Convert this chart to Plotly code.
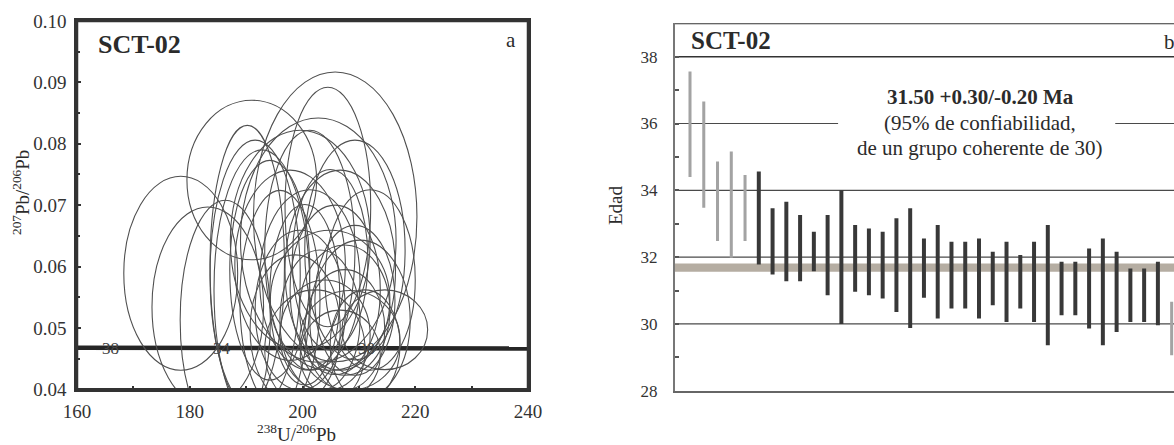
import plotly.graph_objects as go

# ---------------- Panel a: Tera-Wasserburg diagram ----------------
# Error ellipses: centre (238U/206Pb, 207Pb/206Pb) and semi-axes
ell_x = [178.4, 183.2, 191.0, 205.8, 204.5, 190.2, 191.6, 192.8, 194.2, 199.6,
         202.8, 197.8, 201.3, 205.8, 204.9, 207.5, 203.1, 206.7, 209.3, 199.6,
         204.0, 214.6, 208.4, 202.2, 210.2, 196.0, 200.4, 206.7, 211.1, 204.9,
         198.7, 207.5, 186.3, 212.0, 201.3, 209.3]
ell_y = [0.0589, 0.0534, 0.0741, 0.0681, 0.0697, 0.0602, 0.0586, 0.0562, 0.0594, 0.0643,
         0.0643, 0.0602, 0.0578, 0.0562, 0.0545, 0.0529, 0.0513, 0.0594, 0.0545, 0.0529,
         0.0488, 0.0497, 0.0480, 0.0464, 0.0513, 0.0545, 0.0554, 0.0456, 0.0472, 0.0611,
         0.0497, 0.0497, 0.0513, 0.0578, 0.0627, 0.0627]
ell_sx = [10.1, 9.9, 11.5, 14.5, 7.6, 6.6, 8.0, 8.5, 7.1, 12.4,
          13.8, 9.8, 8.9, 8.0, 10.6, 8.0, 7.1, 9.8, 7.1, 8.0,
          8.0, 7.6, 8.9, 8.9, 8.9, 7.1, 6.2, 7.1, 6.2, 6.7,
          8.0, 7.1, 8.0, 8.0, 8.0, 8.9]
ell_sy = [0.0158, 0.0163, 0.0130, 0.0236, 0.0195, 0.0228, 0.0220, 0.0228, 0.0179, 0.0179,
          0.0199, 0.0155, 0.0147, 0.0138, 0.0114, 0.0106, 0.0114, 0.0163, 0.0122, 0.0130,
          0.0090, 0.0065, 0.0081, 0.0098, 0.0130, 0.0179, 0.0147, 0.0073, 0.0090, 0.0147,
          0.0122, 0.0098, 0.0195, 0.0147, 0.0195, 0.0179]

# Concordia (nearly flat at ~30-38 Ma) and its age marks
concordia_x = [160, 240]
concordia_y = [0.04675, 0.04665]
conc_label_x = [165.9, 185.7, 211.3]
conc_label_txt = ["38", "34", "30"]

# ---------------- Panel b: individual ages ----------------
age_hi = [37.56, 36.66, 34.86, 35.16, 34.46,
          34.56, 33.46, 33.66, 33.26, 32.76, 33.26, 34.00, 32.96, 32.86, 32.76,
          33.16, 33.46, 32.56, 32.96, 32.46, 32.46, 32.56, 32.16, 32.46, 32.06,
          32.46, 32.96, 31.86, 31.86, 32.26, 32.56, 32.16, 31.66, 31.66, 31.86,
          30.66]
age_lo = [34.40, 33.48, 32.48, 31.98, 32.48,
          31.78, 31.48, 31.28, 31.28, 31.58, 30.86, 30.00, 30.96, 30.86, 30.76,
          30.36, 29.88, 30.78, 30.16, 30.46, 30.46, 30.16, 30.56, 30.06, 30.46,
          30.06, 29.36, 30.26, 30.26, 29.86, 29.36, 29.76, 30.06, 30.06, 29.96,
          29.06]
grupo = ["out"] * 5 + ["coh"] * 30 + ["out"]
band_lo, band_hi = 31.56, 31.81
y_ticks_b = [28, 30, 32, 34, 36, 38]

FONT = "Liberation Serif"
INK = "#2b2b2b"

fig = go.Figure()

# Concordia curve
fig.add_trace(go.Scatter(x=concordia_x, y=concordia_y, mode="lines",
                         line=dict(color="#262626", width=4.5),
                         hoverinfo="skip", showlegend=False,
                         xaxis="x", yaxis="y"))

# Ages as vertical error bars
idx = list(range(1, len(age_hi) + 1))
colors = ["#383838" if g == "coh" else "#a3a3a3" for g in grupo]
widths = [0.29 if g == "coh" else 0.22 for g in grupo]
fig.add_trace(go.Bar(x=idx, y=[h - l for h, l in zip(age_hi, age_lo)], base=age_lo,
                     width=widths, marker=dict(color=colors, line=dict(width=0)),
                     hoverinfo="skip", showlegend=False, xaxis="x2", yaxis="y2"))

shapes = []
# Ellipses
for cx, cy, sx, sy in zip(ell_x, ell_y, ell_sx, ell_sy):
    shapes.append(dict(type="circle", xref="x", yref="y",
                       x0=cx - sx, x1=cx + sx, y0=cy - sy, y1=cy + sy,
                       line=dict(color="#505050", width=1.1), layer="above"))

# Panel a frame
shapes.append(dict(type="rect", xref="x domain", yref="y domain", x0=0, x1=1,
                   y0=0, y1=1, line=dict(color="#333333", width=2.5),
                   fillcolor="rgba(0,0,0,0)", layer="above"))

# Panel b: mean band, reference lines and header rule
shapes.append(dict(type="rect", xref="x2 domain", yref="y2", x0=0, x1=1,
                   y0=band_lo, y1=band_hi, fillcolor="#b5ada2",
                   line=dict(width=0), layer="below"))
for v in [30, 32, 34]:
    shapes.append(dict(type="line", xref="x2 domain", yref="y2", x0=0, x1=1,
                       y0=v, y1=v, line=dict(color="#4a4a4a", width=1.2), layer="below"))
shapes.append(dict(type="line", xref="x2", yref="y2", x0=-0.09, x1=11.76,
                   y0=36, y1=36, line=dict(color="#4a4a4a", width=1.2), layer="below"))
shapes.append(dict(type="line", xref="x2", yref="y2", x0=31.9, x1=36.17,
                   y0=36, y1=36, line=dict(color="#4a4a4a", width=1.2), layer="below"))
shapes.append(dict(type="line", xref="x2 domain", yref="y2", x0=0, x1=1,
                   y0=38, y1=38, line=dict(color="#333333", width=1.5), layer="below"))
shapes.append(dict(type="line", xref="x2 domain", yref="y2", x0=0, x1=1,
                   y0=39, y1=39, line=dict(color="#333333", width=1.8), layer="below"))

annotations = []
for x, t in zip(conc_label_x, conc_label_txt):
    annotations.append(dict(x=x, y=0.0467, xref="x", yref="y", text=t, showarrow=False,
                            yanchor="middle",
                            font=dict(family=FONT, size=17, color="#444444")))


def paper_text(px, py, text, size, xanchor="center", angle=0):
    return dict(x=px / 1174, y=1 - py / 445, xref="paper", yref="paper",
                xanchor=xanchor, yanchor="middle", text=text, showarrow=False,
                textangle=angle, font=dict(family=FONT, size=size, color=INK))


annotations += [
    paper_text(96, 44, "<b>SCT-02</b>", 26, xanchor="left"),
    paper_text(511, 40, "a", 21),
    paper_text(21, 193, "<sup>207</sup>Pb/<sup>206</sup>Pb", 19, angle=-90),
    paper_text(297, 433, "<sup>238</sup>U/<sup>206</sup>Pb", 19),
    paper_text(689, 41, "<b>SCT-02</b>", 25, xanchor="left"),
    paper_text(1169, 42, "b", 21),
    paper_text(615, 205, "Edad", 19, angle=-90),
    paper_text(980, 97, "<b>31.50 +0.30/-0.20 Ma</b>", 21),
    paper_text(980, 123, "(95% de confiabilidad,", 21),
    paper_text(980, 148, "de un grupo coherente de 30)", 21),
]

tick_font = dict(family=FONT, size=19, color="#333333")

fig.update_layout(
    width=1174, height=445,
    margin=dict(l=0, r=0, t=0, b=0, autoexpand=False),
    paper_bgcolor="white", plot_bgcolor="white",
    showlegend=False,
    shapes=shapes, annotations=annotations,
    xaxis=dict(domain=[77 / 1174, 528 / 1174], range=[160, 240],
               tickvals=[160, 180, 200, 220, 240], ticks="inside", ticklen=4,
               tickwidth=2, tickcolor="#333333",
               minor=dict(dtick=10, ticks="inside", ticklen=4, tickwidth=2,
                          tickcolor="#333333"),
               showline=True, mirror=True, linecolor="#333333", linewidth=2.5,
               showgrid=False, zeroline=False, tickfont=tick_font,
               ticklabelstandoff=3, automargin=False, anchor="y"),
    yaxis=dict(domain=[55.7 / 445, 424 / 445], range=[0.04, 0.10],
               tickvals=[0.04, 0.05, 0.06, 0.07, 0.08, 0.09, 0.10],
               ticktext=["0.04", "0.05", "0.06", "0.07", "0.08", "0.09", "0.10"],
               ticks="inside", ticklen=4, tickwidth=2, tickcolor="#333333",
               minor=dict(dtick=0.005, ticks="inside", ticklen=3, tickwidth=2,
                          tickcolor="#333333"),
               showline=True, mirror=True, linecolor="#333333", linewidth=2.5,
               showgrid=False, zeroline=False, tickfont=tick_font,
               ticklabelstandoff=4, automargin=False, anchor="x"),
    xaxis2=dict(domain=[675 / 1174, 1.0], range=[-0.09, 36.17],
                showticklabels=False, ticks="", showline=True,
                linecolor="#666666", linewidth=2, showgrid=False, zeroline=False,
                automargin=False, anchor="y2"),
    yaxis2=dict(domain=[54.3 / 445, 421.7 / 445], range=[28, 39],
                tickvals=y_ticks_b, ticks="inside", ticklen=4, tickwidth=1.5,
                tickcolor="#555555",
                minor=dict(dtick=1, ticks="inside", ticklen=4, tickwidth=1.5,
                           tickcolor="#555555"),
                showline=True, linecolor="#777777", linewidth=2,
                showgrid=False, zeroline=False,
                tickfont=dict(family=FONT, size=17, color="#333333"),
                ticklabelstandoff=12, automargin=False, anchor="x2"),
)

fig.write_html("out.html")
